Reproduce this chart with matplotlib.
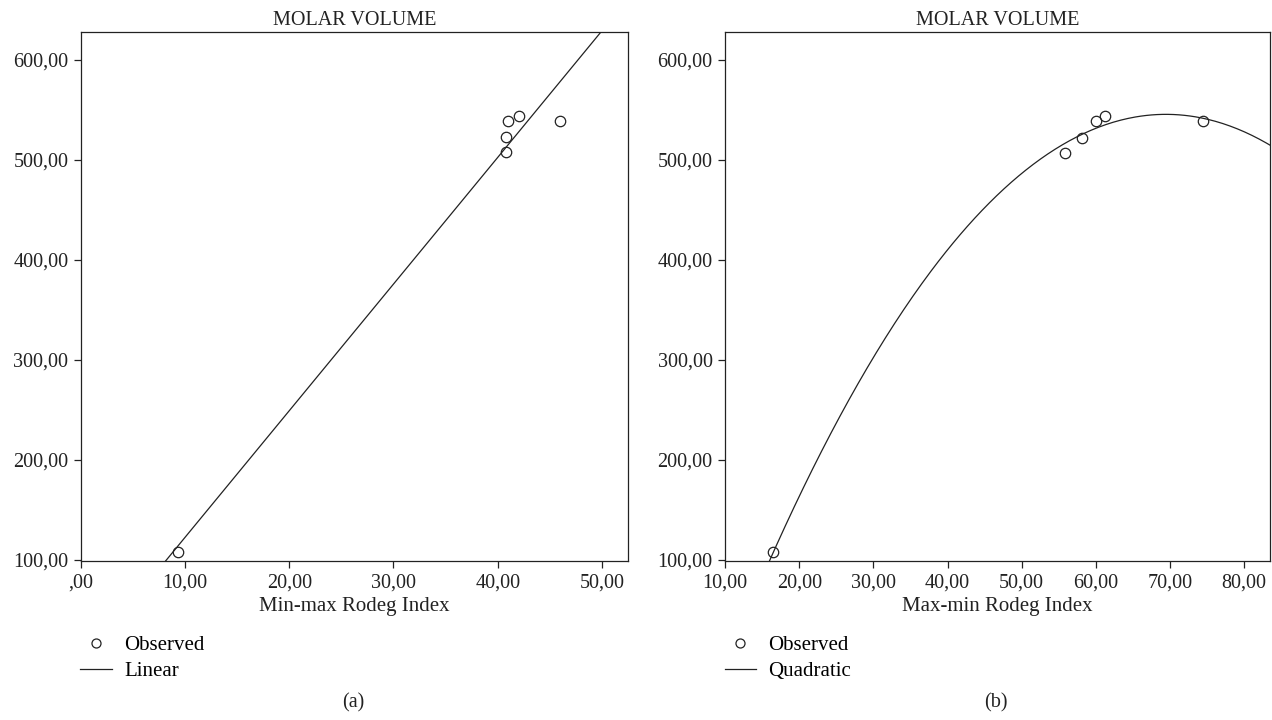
import numpy as np
import matplotlib
matplotlib.use("Agg")
import matplotlib.pyplot as plt
from matplotlib.lines import Line2D

plt.rcParams['font.family'] = ['Liberation Serif', 'DejaVu Serif']

# observed points
x_minmax = [9.3, 40.8, 40.8, 41.0, 42.0, 46.0]
y_minmax = [108, 508, 523, 539, 544, 539]
x_maxmin = [16.5, 55.8, 58.2, 60.0, 61.3, 74.4]
y_maxmin = [108, 507, 522, 539, 544, 539]

xticks_a = [0, 10, 20, 30, 40, 50]
xticks_b = [10, 20, 30, 40, 50, 60, 70, 80]
yticks = [100, 200, 300, 400, 500, 600]

ink = '#222222'


def fmt(v):
    s = "%.2f" % v
    s = s.replace(".", ",")
    if s.startswith("0,"):
        s = s[1:]
    return s


def setup(ax, xlim, xt, xlabel):
    ax.set_xlim(*xlim)
    ax.set_ylim(99, 628)
    ax.set_xticks(xt)
    ax.set_xticklabels([fmt(v) for v in xt])
    ax.set_yticks(yticks)
    ax.set_yticklabels([fmt(v) for v in yticks])
    ax.tick_params(direction='out', length=5, width=0.9, labelsize=14.5, colors=ink, pad=4)
    for s in ax.spines.values():
        s.set_linewidth(0.9)
        s.set_color(ink)
    ax.set_title('MOLAR VOLUME', fontsize=14.5, pad=5, color=ink)
    ax.set_xlabel(xlabel, fontsize=15, labelpad=3, color=ink)


fig = plt.figure(figsize=(12.72, 7.2), dpi=100)
ax1 = fig.add_axes([0.0635, 0.2208, 0.4302, 0.7347])
ax2 = fig.add_axes([0.570, 0.2208, 0.4285, 0.7347])

# (a) linear fit
p1 = np.polyfit(x_minmax, y_minmax, 1)
xs = np.linspace(0, 52.5, 200)
ax1.plot(xs, np.polyval(p1, xs), color=ink, lw=0.9)
ax1.plot(x_minmax, y_minmax, 'o', mfc='none', mec=ink, mew=0.9, ms=7.5)
setup(ax1, (0, 52.5), xticks_a, 'Min-max Rodeg Index')

# (b) quadratic fit
p2 = np.polyfit(x_maxmin, y_maxmin, 2)
xs2 = np.linspace(10, 83.5, 300)
ax2.plot(xs2, np.polyval(p2, xs2), color=ink, lw=0.9)
ax2.plot(x_maxmin, y_maxmin, 'o', mfc='none', mec=ink, mew=0.9, ms=7.5)
setup(ax2, (10, 83.5), xticks_b, 'Max-min Rodeg Index')

for ax, name in [(ax1, 'Linear'), (ax2, 'Quadratic')]:
    handles = [Line2D([], [], marker='o', ls='none', mfc='none', mec=ink, mew=0.9, ms=6.5),
               Line2D([], [], color=ink, lw=0.9)]
    ax.legend(handles, ['Observed', name], loc='upper left', bbox_to_anchor=(-0.016, -0.125),
              frameon=False, fontsize=15, handlelength=1.5, handletextpad=0.6,
              labelspacing=0.3, borderaxespad=0)

fig.text(353 / 1272, 1 - 703 / 720, '(a)', ha='center', va='center', fontsize=14.5, color=ink)
fig.text(996 / 1272, 1 - 703 / 720, '(b)', ha='center', va='center', fontsize=14.5, color=ink)

fig.savefig('out.png', dpi=100)
